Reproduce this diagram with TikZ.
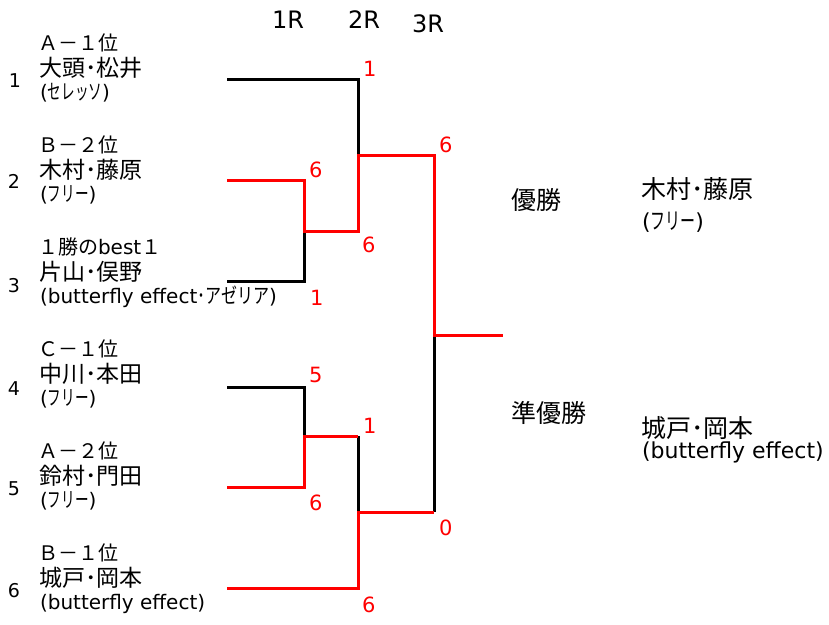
\documentclass[tikz,border=0pt]{standalone}
\usepackage{graphicx}
\usepackage{fontspec}
\setmainfont{Noto Sans CJK JP}
\newfontfamily\djf{DejaVu Sans}
\newcommand{\pl}[1]{{\djf(}#1{\djf)}}
\newcommand{\kn}[1]{\scalebox{0.68}[1.05]{#1}}
\newcommand{\knw}[1]{\scalebox{0.8}[1.05]{#1}}
\begin{document}
\begin{tikzpicture}[x=1pt,y=-1pt,
  txt/.style={anchor=base west,inner sep=0pt,outer sep=0pt},
  head/.style={txt,font=\fontsize{20}{20}\selectfont},
  nm/.style={txt,font=\fontsize{23}{23}\selectfont},
  sub/.style={txt,font=\fontsize{20}{20}\selectfont},
  num/.style={txt,font=\djf\fontsize{19}{19}\selectfont},
  rnd/.style={txt,font=\djf\fontsize{24}{24}\selectfont},
  score/.style={txt,font=\djf\fontsize{21}{21}\selectfont,text=red},
  big/.style={txt,font=\fontsize{25}{25}\selectfont},
  bsub/.style={txt,font=\fontsize{22}{22}\selectfont},
  bk/.style={draw=black,line width=3pt,line join=miter},
  rd/.style={draw=red,line width=3pt,line join=miter}]
\useasboundingbox (0,0) rectangle (829,624);
% round headers
\node[rnd] (r1) at (272,28) {1R};
\node[rnd] (r2) at (348,28) {2R};
\node[rnd] (r3) at (412,32) {3R};
% seed numbers
\node[num] (n1) at (9,87) {1};
\node[num] (n2) at (8,188) {2};
\node[num] (n3) at (8,292) {3};
\node[num] (n4) at (8,395) {4};
\node[num] (n5) at (8,495) {5};
\node[num] (n6) at (8,597) {6};
% entries
\node[head] (h1) at (38,50) {Ａ－１位};
\node[nm] (a1) at (39,76) {大頭･松井};
\node[sub] (s1) at (40,99) {\pl{\kn{セレッソ}}};
\node[head] (h2) at (38,152) {Ｂ－２位};
\node[nm] (a2) at (39,178) {木村･藤原};
\node[sub] (s2) at (40,201) {\pl{\kn{フリー}}};
\node[head] (h3) at (38,254) {１勝の{\djf best}１};
\node[nm] (a3) at (39,280) {片山･俣野};
\node[sub] (s3) at (40,303) {\pl{{\djf butterfly effect}\knw{･アゼリア}}};
\node[head] (h4) at (38,356) {Ｃ－１位};
\node[nm] (a4) at (39,382) {中川･本田};
\node[sub] (s4) at (40,405) {\pl{\kn{フリー}}};
\node[head] (h5) at (38,458) {Ａ－２位};
\node[nm] (a5) at (39,484) {鈴村･門田};
\node[sub] (s5) at (40,507) {\pl{\kn{フリー}}};
\node[head] (h6) at (38,560) {Ｂ－１位};
\node[nm] (a6) at (39,586) {城戸･岡本};
\node[sub] (s6) at (40,609) {\pl{{\djf butterfly effect}}};
% bracket coordinates
\coordinate (p1) at (227,79);
\coordinate (p2) at (227,180);
\coordinate (p3) at (227,281);
\coordinate (p4) at (227,387);
\coordinate (p5) at (227,487);
\coordinate (p6) at (227,588);
\coordinate (ca) at (304,180);
\coordinate (cb) at (304,281);
\coordinate (m1) at (304,231);
\coordinate (m1r) at (358,231);
\coordinate (cc) at (358,79);
\coordinate (m2) at (358,155);
\coordinate (cs) at (434,155);
\coordinate (cd) at (304,387);
\coordinate (ce) at (304,487);
\coordinate (m3) at (304,436);
\coordinate (m3r) at (358,436);
\coordinate (cf) at (358,588);
\coordinate (m4) at (358,512);
\coordinate (ct) at (434,512);
\coordinate (fin) at (434,335);
\coordinate (finr) at (503,335);
% black (lost) lines
\draw[bk] (p1) -- (cc) -- (m2);
\draw[bk] (p3) -- (cb) -- (m1);
\draw[bk] (p4) -- (cd) -- (m3);
\draw[bk] (m3r) -- (m4);
\draw[bk] (ct) -- (fin);
% red (won) lines
\draw[rd] (p2) -- (ca) -- (m1) -- (m1r) -- (m2) -- (cs) -- (fin) -- (finr);
\draw[rd] (p5) -- (ce) -- (m3) -- (m3r);
\draw[rd] (p6) -- (cf) -- (m4) -- (ct);
% scores
\node[score] (k1) at (363,76) {1};
\node[score] (k2) at (309,177) {6};
\node[score] (k3) at (439,152) {6};
\node[score] (k4) at (362,252) {6};
\node[score] (k5) at (310,305) {1};
\node[score] (k6) at (309,382) {5};
\node[score] (k7) at (363,433) {1};
\node[score] (k8) at (309,510) {6};
\node[score] (k9) at (439,535) {0};
\node[score] (k10) at (362,612) {6};
% results
\node[big] (w) at (511,209) {優勝};
\node[big] (wn) at (641,198) {木村･藤原};
\node[bsub] (ws) at (642,229) {\pl{\kn{フリー}}};
\node[big] (ru) at (511,422) {準優勝};
\node[big] (rn) at (641,437) {城戸･岡本};
\node[bsub] (rs) at (642,458) {\pl{{\djf butterfly effect}}};
\end{tikzpicture}
\end{document}
